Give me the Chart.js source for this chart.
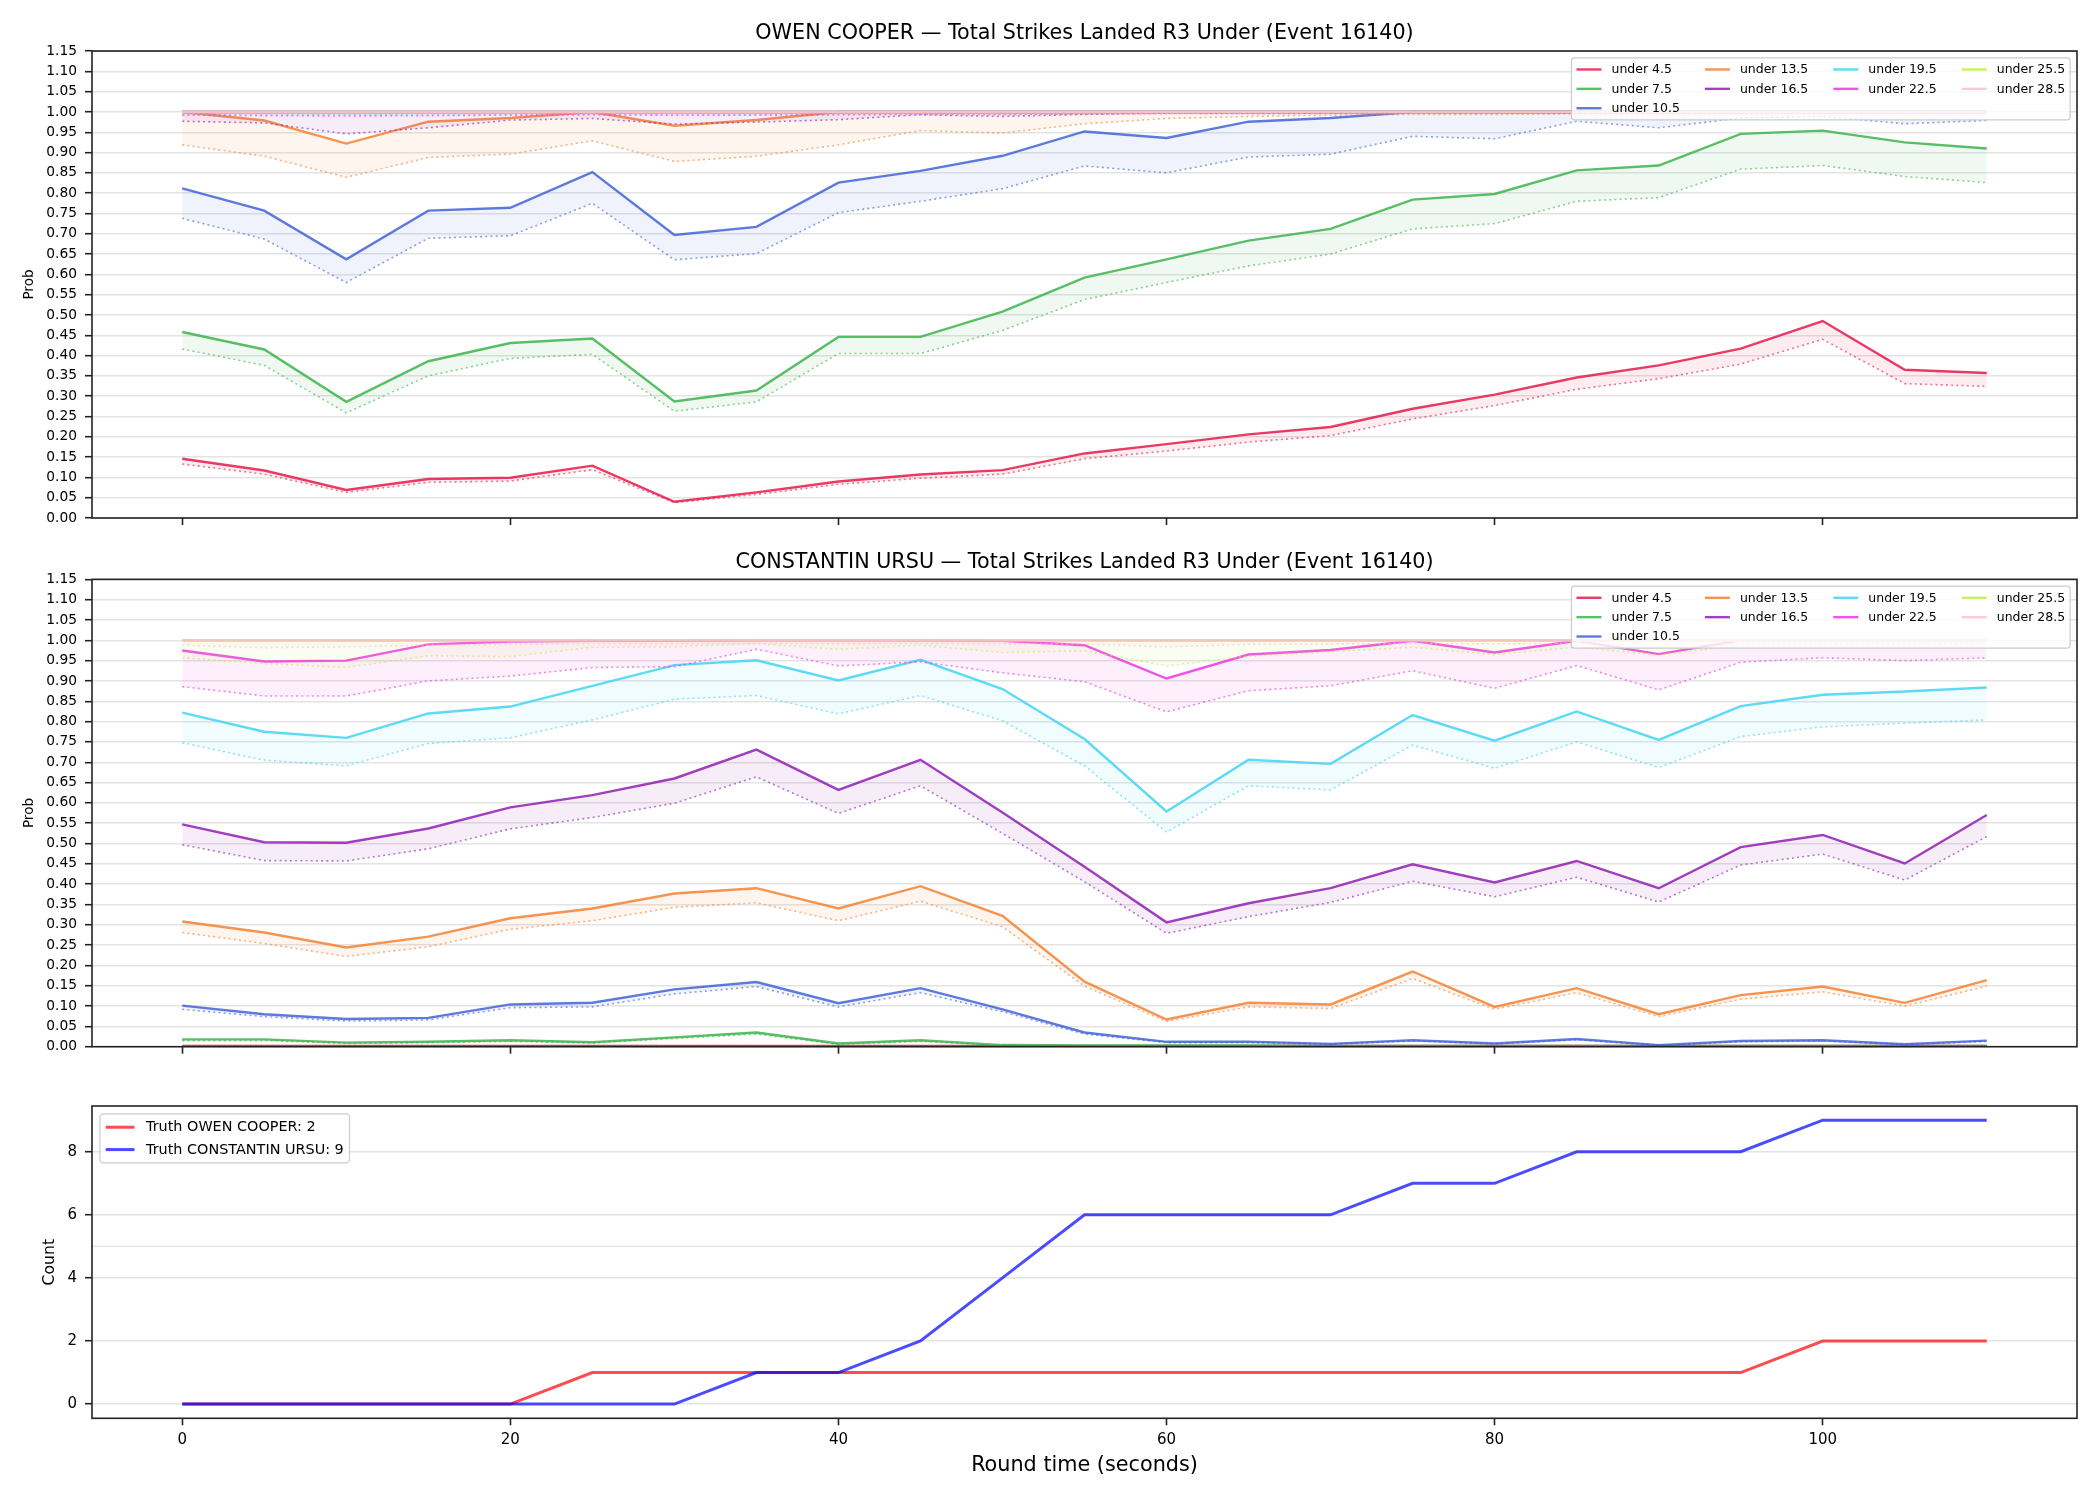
<!DOCTYPE html>
<html lang="en">
<head>
<meta charset="UTF-8">
<title>Total Strikes Landed R3 Under (Event 16140)</title>
<script src="https://cdn.jsdelivr.net/npm/chart.js"></script>
<style>
  body { margin: 0; background: #fff; }
  #wrap { position: relative; width: 2100px; height: 1500px; }
  canvas { position: absolute; left: 0; }
</style>
</head>
<body>
<div id="wrap">
  <canvas id="chartOwen" width="2100" height="548" style="top:0px"></canvas>
  <canvas id="chartUrsu" width="2100" height="546" style="top:530px"></canvas>
  <canvas id="chartTruth" width="2100" height="424" style="top:1076px"></canvas>
</div>
<script>
// ---- data ----
const times = [0, 5, 10, 15, 20, 25, 30, 35, 40, 45, 50, 55, 60, 65, 70, 75, 80, 85, 90, 95, 100, 105, 110];
const timeTicks = [0, 20, 40, 60, 80, 100];
const probTicks = [0, 0.05, 0.10, 0.15, 0.20, 0.25, 0.30, 0.35, 0.40, 0.45, 0.50, 0.55, 0.60, 0.65, 0.70, 0.75, 0.80, 0.85, 0.90, 0.95, 1.00, 1.05, 1.10, 1.15];
const countTicks = [0, 2, 4, 6, 8];
const countExtraGrid = [5];

const lineLabels = ['under 4.5', 'under 7.5', 'under 10.5', 'under 13.5', 'under 16.5', 'under 19.5', 'under 22.5', 'under 25.5', 'under 28.5'];
const lineColors = ['#e6194b', '#3cb44b', '#4363d8', '#f58231', '#911eb4', '#42d4f4', '#f032e6', '#bfef45', '#fabed4'];

// OWEN COOPER: solid line + dotted lower line per threshold
const owen45 = [0.146, 0.117, 0.069, 0.096, 0.099, 0.129, 0.040, 0.063, 0.090, 0.107, 0.118, 0.159, 0.182, 0.206, 0.224, 0.269, 0.304, 0.346, 0.376, 0.417, 0.485, 0.365, 0.357];
const owen45Low = [0.133, 0.108, 0.063, 0.088, 0.091, 0.119, 0.038, 0.058, 0.083, 0.098, 0.108, 0.146, 0.165, 0.187, 0.203, 0.244, 0.277, 0.317, 0.343, 0.379, 0.440, 0.331, 0.324];
const owen75 = [0.458, 0.415, 0.286, 0.386, 0.431, 0.442, 0.287, 0.314, 0.446, 0.446, 0.508, 0.592, 0.637, 0.683, 0.712, 0.784, 0.798, 0.856, 0.868, 0.946, 0.954, 0.925, 0.910];
const owen75Low = [0.416, 0.376, 0.259, 0.350, 0.393, 0.403, 0.263, 0.286, 0.405, 0.405, 0.462, 0.538, 0.580, 0.621, 0.650, 0.712, 0.725, 0.780, 0.789, 0.859, 0.868, 0.841, 0.826];
const owen105 = [0.812, 0.757, 0.637, 0.757, 0.764, 0.852, 0.697, 0.717, 0.826, 0.855, 0.892, 0.952, 0.936, 0.976, 0.985, 1.000, 1.000, 1.000, 1.000, 1.000, 1.000, 1.000, 1.000];
const owen105Low = [0.738, 0.687, 0.580, 0.689, 0.695, 0.775, 0.636, 0.651, 0.752, 0.780, 0.811, 0.867, 0.850, 0.889, 0.896, 0.940, 0.934, 0.977, 0.961, 0.985, 0.989, 0.971, 0.979];
const owen135 = [1.000, 0.979, 0.922, 0.976, 0.985, 1.000, 0.966, 0.980, 1.000, 1.000, 1.000, 1.000, 1.000, 1.000, 1.000, 1.000, 1.000, 1.000, 1.000, 1.000, 1.000, 1.000, 1.000];
const owen135Low = [0.919, 0.891, 0.839, 0.888, 0.896, 0.929, 0.878, 0.891, 0.919, 0.954, 0.948, 0.971, 0.984, 0.989, 0.992, 0.994, 0.994, 0.995, 0.995, 0.995, 0.996, 0.996, 0.996];
const owen165 = [1.000, 1.000, 1.000, 1.000, 1.000, 1.000, 1.000, 1.000, 1.000, 1.000, 1.000, 1.000, 1.000, 1.000, 1.000, 1.000, 1.000, 1.000, 1.000, 1.000, 1.000, 1.000, 1.000];
const owen165Low = [0.977, 0.973, 0.946, 0.961, 0.980, 0.984, 0.970, 0.975, 0.981, 0.993, 0.989, 0.994, 0.997, 0.996, 0.997, 0.998, 0.998, 0.998, 0.998, 0.998, 0.998, 0.998, 0.998];
const owen195 = [1.000, 1.000, 1.000, 1.000, 1.000, 1.000, 1.000, 1.000, 1.000, 1.000, 1.000, 1.000, 1.000, 1.000, 1.000, 1.000, 1.000, 1.000, 1.000, 1.000, 1.000, 1.000, 1.000];
const owen195Low = [0.995, 0.995, 0.994, 0.995, 0.995, 0.996, 0.995, 0.995, 0.996, 0.997, 0.997, 0.997, 0.998, 0.998, 0.998, 0.999, 0.999, 0.999, 0.999, 0.999, 0.999, 0.999, 0.999];
const owen225 = [1.000, 1.000, 1.000, 1.000, 1.000, 1.000, 1.000, 1.000, 1.000, 1.000, 1.000, 1.000, 1.000, 1.000, 1.000, 1.000, 1.000, 1.000, 1.000, 1.000, 1.000, 1.000, 1.000];
const owen225Low = [0.992, 0.991, 0.990, 0.991, 0.992, 0.993, 0.992, 0.992, 0.993, 0.994, 0.994, 0.995, 0.996, 0.996, 0.996, 0.997, 0.997, 0.997, 0.997, 0.997, 0.997, 0.997, 0.997];
const owen255 = [1.000, 1.000, 1.000, 1.000, 1.000, 1.000, 1.000, 1.000, 1.000, 1.000, 1.000, 1.000, 1.000, 1.000, 1.000, 1.000, 1.000, 1.000, 1.000, 1.000, 1.000, 1.000, 1.000];
const owen255Low = [0.999, 0.999, 0.999, 0.999, 0.999, 0.999, 0.999, 0.999, 0.999, 0.999, 0.999, 0.999, 0.999, 0.999, 0.999, 0.999, 0.999, 0.999, 0.999, 0.999, 0.999, 0.999, 0.999];
const owen285 = [1.000, 1.000, 1.000, 1.000, 1.000, 1.000, 1.000, 1.000, 1.000, 1.000, 1.000, 1.000, 1.000, 1.000, 1.000, 1.000, 1.000, 1.000, 1.000, 1.000, 1.000, 1.000, 1.000];
const owen285Low = [0.999, 0.999, 0.999, 0.999, 0.999, 0.999, 0.999, 0.999, 0.999, 0.999, 0.999, 0.999, 0.999, 0.999, 0.999, 0.999, 0.999, 0.999, 0.999, 0.999, 0.999, 0.999, 0.999];

// CONSTANTIN URSU
const ursu45 = [0.002, 0.002, 0.002, 0.002, 0.002, 0.002, 0.002, 0.002, 0.002, 0.002, 0.002, 0.002, 0.002, 0.002, 0.002, 0.002, 0.002, 0.002, 0.002, 0.002, 0.002, 0.002, 0.002];
const ursu45Low = [0.001, 0.001, 0.001, 0.001, 0.001, 0.001, 0.001, 0.001, 0.001, 0.001, 0.001, 0.001, 0.001, 0.001, 0.001, 0.001, 0.001, 0.001, 0.001, 0.001, 0.001, 0.001, 0.001];
const ursu75 = [0.018, 0.018, 0.010, 0.012, 0.016, 0.011, 0.023, 0.035, 0.008, 0.016, 0.004, 0.003, 0.003, 0.003, 0.002, 0.002, 0.002, 0.002, 0.002, 0.002, 0.002, 0.002, 0.002];
const ursu75Low = [0.015, 0.015, 0.008, 0.010, 0.013, 0.009, 0.020, 0.031, 0.006, 0.013, 0.003, 0.002, 0.002, 0.002, 0.001, 0.001, 0.001, 0.001, 0.001, 0.001, 0.001, 0.001, 0.001];
const ursu105 = [0.101, 0.080, 0.068, 0.071, 0.104, 0.108, 0.141, 0.159, 0.107, 0.144, 0.092, 0.035, 0.012, 0.012, 0.007, 0.016, 0.008, 0.019, 0.004, 0.014, 0.016, 0.006, 0.015];
const ursu105Low = [0.092, 0.074, 0.063, 0.066, 0.096, 0.098, 0.130, 0.148, 0.098, 0.133, 0.086, 0.031, 0.010, 0.010, 0.006, 0.014, 0.007, 0.017, 0.003, 0.012, 0.014, 0.005, 0.013];
const ursu135 = [0.308, 0.281, 0.244, 0.271, 0.316, 0.340, 0.377, 0.390, 0.340, 0.395, 0.322, 0.160, 0.067, 0.108, 0.104, 0.185, 0.098, 0.144, 0.080, 0.127, 0.148, 0.108, 0.164];
const ursu135Low = [0.281, 0.254, 0.222, 0.246, 0.289, 0.310, 0.343, 0.354, 0.310, 0.358, 0.295, 0.149, 0.062, 0.098, 0.094, 0.168, 0.092, 0.133, 0.074, 0.117, 0.135, 0.100, 0.149];
const ursu165 = [0.547, 0.503, 0.502, 0.537, 0.589, 0.619, 0.660, 0.731, 0.632, 0.706, 0.576, 0.443, 0.306, 0.353, 0.390, 0.449, 0.404, 0.457, 0.390, 0.491, 0.521, 0.451, 0.570];
const ursu165Low = [0.497, 0.458, 0.457, 0.487, 0.536, 0.564, 0.599, 0.664, 0.574, 0.642, 0.525, 0.406, 0.279, 0.320, 0.355, 0.407, 0.369, 0.417, 0.356, 0.447, 0.474, 0.410, 0.517];
const ursu195 = [0.822, 0.775, 0.760, 0.820, 0.837, 0.888, 0.939, 0.951, 0.901, 0.952, 0.880, 0.757, 0.579, 0.706, 0.696, 0.816, 0.753, 0.825, 0.755, 0.838, 0.866, 0.874, 0.884];
const ursu195Low = [0.748, 0.705, 0.691, 0.746, 0.760, 0.804, 0.855, 0.864, 0.819, 0.864, 0.802, 0.691, 0.528, 0.642, 0.632, 0.742, 0.685, 0.750, 0.687, 0.763, 0.787, 0.796, 0.804];
const ursu225 = [0.975, 0.948, 0.950, 0.990, 0.997, 0.999, 0.999, 1.000, 1.000, 1.000, 0.999, 0.988, 0.906, 0.965, 0.976, 0.999, 0.970, 0.999, 0.966, 1.000, 1.000, 1.000, 1.000];
const ursu225Low = [0.886, 0.863, 0.863, 0.900, 0.912, 0.933, 0.935, 0.978, 0.937, 0.947, 0.920, 0.898, 0.824, 0.876, 0.888, 0.925, 0.882, 0.938, 0.878, 0.946, 0.957, 0.950, 0.957];
const ursu255 = [1.000, 1.000, 1.000, 1.000, 1.000, 1.000, 1.000, 1.000, 1.000, 1.000, 1.000, 1.000, 1.000, 1.000, 1.000, 1.000, 1.000, 1.000, 1.000, 1.000, 1.000, 1.000, 1.000];
const ursu255Low = [0.957, 0.943, 0.933, 0.962, 0.960, 0.983, 0.984, 0.992, 0.978, 0.988, 0.970, 0.974, 0.937, 0.961, 0.972, 0.983, 0.965, 0.983, 0.964, 0.988, 0.990, 0.990, 0.991];
const ursu285 = [1.000, 1.000, 1.000, 1.000, 1.000, 1.000, 1.000, 1.000, 1.000, 1.000, 1.000, 1.000, 1.000, 1.000, 1.000, 1.000, 1.000, 1.000, 1.000, 1.000, 1.000, 1.000, 1.000];
const ursu285Low = [0.988, 0.982, 0.984, 0.988, 0.990, 0.991, 0.991, 0.992, 0.991, 0.992, 0.991, 0.991, 0.984, 0.990, 0.991, 0.992, 0.991, 0.992, 0.990, 0.992, 0.993, 0.993, 0.993];

// running truth counts
const truthOwen = [0, 0, 0, 0, 0, 1, 1, 1, 1, 1, 1, 1, 1, 1, 1, 1, 1, 1, 1, 1, 2, 2, 2];
const truthUrsu = [0, 0, 0, 0, 0, 0, 0, 1, 1, 2, 4, 6, 6, 6, 6, 7, 7, 8, 8, 8, 9, 9, 9];

const owenMain = [owen45, owen75, owen105, owen135, owen165, owen195, owen225, owen255, owen285];
const owenLow = [owen45Low, owen75Low, owen105Low, owen135Low, owen165Low, owen195Low, owen225Low, owen255Low, owen285Low];
const ursuMain = [ursu45, ursu75, ursu105, ursu135, ursu165, ursu195, ursu225, ursu255, ursu285];
const ursuLow = [ursu45Low, ursu75Low, ursu105Low, ursu135Low, ursu165Low, ursu195Low, ursu225Low, ursu255Low, ursu285Low];

// ---- helpers ----
Chart.defaults.font.family = '"DejaVu Sans", sans-serif';
Chart.defaults.color = '#000';
const gridColor = 'rgba(176,176,176,0.35)';

function rgba(hex, a) {
  const n = parseInt(hex.slice(1), 16);
  return `rgba(${n >> 16}, ${(n >> 8) & 255}, ${n & 255}, ${a})`;
}
const pts = vals => times.map((t, i) => ({ x: t, y: vals[i] }));

// box round the plot area, like matplotlib spines
const axesFrame = {
  id: 'axesFrame',
  beforeDatasetsDraw(chart, args, o) {
    // extra unlabelled grid lines
    if (!o.extraGrid) return;
    const { ctx, chartArea: a, scales } = chart;
    ctx.save();
    ctx.strokeStyle = gridColor;
    ctx.lineWidth = 1.4;
    o.extraGrid.forEach(v => {
      const y = scales.y.getPixelForValue(v);
      ctx.beginPath();
      ctx.moveTo(a.left, y);
      ctx.lineTo(a.right, y);
      ctx.stroke();
    });
    ctx.restore();
  },
  afterDatasetsDraw(chart) {
    const { ctx, chartArea: a } = chart;
    ctx.save();
    ctx.strokeStyle = '#222';
    ctx.lineWidth = 1.6;
    ctx.strokeRect(a.left, a.top, a.right - a.left, a.bottom - a.top);
    ctx.restore();
  }
};

// legend drawn inside the plot area (matplotlib style, column-wise fill)
const insideLegend = {
  id: 'insideLegend',
  afterDraw(chart, args, o) {
    if (!o.items) return;
    const { ctx, chartArea: a } = chart;
    const fs = o.fontSize;
    ctx.save();
    ctx.font = fs + 'px "DejaVu Sans"';
    const n = o.items.length, ncol = o.ncol || 1;
    const base = Math.floor(n / ncol), extra = n % ncol;
    const cols = [];
    let idx = 0;
    for (let c = 0; c < ncol; c++) {
      const cnt = base + (c < extra ? 1 : 0);
      cols.push(o.items.slice(idx, idx + cnt));
      idx += cnt;
    }
    const pad = 0.4 * fs, hl = 2 * fs, htp = 0.8 * fs, cs = 2 * fs, ls = 0.5 * fs, rowH = fs * 1.05;
    const colW = cols.map(col => hl + htp + Math.max(...col.map(it => ctx.measureText(it.label).width)));
    const nrow = Math.max(...cols.map(c => c.length));
    const w = 2 * pad + colW.reduce((s, v) => s + v, 0) + cs * (ncol - 1);
    const h = 2 * pad + nrow * rowH + (nrow - 1) * ls;
    const inset = 0.55 * fs;
    const x0 = o.loc === 'upper left' ? a.left + inset : a.right - inset - w;
    const y0 = a.top + inset;
    ctx.beginPath();
    ctx.roundRect(x0, y0, w, h, 0.25 * fs);
    ctx.fillStyle = 'rgba(255,255,255,0.8)';
    ctx.fill();
    ctx.strokeStyle = '#cccccc';
    ctx.lineWidth = 1.2;
    ctx.stroke();
    ctx.textBaseline = 'middle';
    ctx.textAlign = 'left';
    let cx = x0 + pad;
    cols.forEach((col, c) => {
      col.forEach((it, r) => {
        const cy = y0 + pad + r * (rowH + ls) + rowH / 2;
        ctx.strokeStyle = it.color;
        ctx.lineWidth = it.width;
        ctx.beginPath();
        ctx.moveTo(cx, cy);
        ctx.lineTo(cx + hl, cy);
        ctx.stroke();
        ctx.fillStyle = '#000';
        ctx.fillText(it.label, cx + hl + htp, cy + 0.5);
      });
      cx += colW[c] + cs;
    });
    ctx.restore();
  }
};

function probDatasets(main, low) {
  const ds = [];
  main.forEach((vals, k) => {
    const c = lineColors[k];
    ds.push({
      label: lineLabels[k], data: pts(vals),
      borderColor: rgba(c, 0.85), borderWidth: 2.4,
      pointRadius: 0, fill: false, clip: 0, order: -2 * k
    });
    ds.push({
      label: lineLabels[k] + ' low', data: pts(low[k]),
      borderColor: rgba(c, 0.6), borderWidth: 1.6, borderDash: [2, 3.2],
      backgroundColor: rgba(c, 0.08), fill: '-1',
      pointRadius: 0, clip: 0, order: -2 * k - 1
    });
  });
  return ds;
}

function xScale(showLabels, height) {
  return {
    type: 'linear', min: -5.5, max: 115.5,
    afterBuildTicks: s => { s.ticks = timeTicks.map(v => ({ value: v })); },
    afterFit: s => { s.height = height; },
    border: { display: false },
    grid: { drawOnChartArea: false, drawTicks: true, tickLength: 7, tickColor: '#222', tickWidth: 1.6 },
    ticks: { display: showLabels, padding: 6, font: { size: 15 }, maxRotation: 0, autoSkip: false, callback: v => String(v) },
    title: { display: showLabels, text: 'Round time (seconds)', font: { size: 20.75 }, padding: { bottom: 21.6 } }
  };
}

function yScale(min, max, ticks, fmt, title, titleSize, titlePad, tickSize) {
  return {
    min: min, max: max,
    afterBuildTicks: s => { s.ticks = ticks.map(v => ({ value: v })); },
    afterFit: s => { s.width = 92; },
    border: { display: false },
    grid: { color: gridColor, lineWidth: 1.4, tickColor: '#222', tickLength: 7, tickWidth: 1.6 },
    ticks: { padding: 8, font: { size: tickSize }, callback: fmt },
    title: { display: true, text: title, font: { size: titleSize }, padding: { top: titlePad } }
  };
}

function probChart(id, name, main, low, box) {
  return new Chart(document.getElementById(id), {
    type: 'line',
    data: { datasets: probDatasets(main, low) },
    plugins: [axesFrame, insideLegend],
    options: {
      responsive: false, animation: false, devicePixelRatio: 1,
      layout: { padding: { left: 0, right: 23, top: 0, bottom: 0 } },
      scales: {
        x: xScale(false, box.axis),
        y: yScale(0, 1.15, probTicks, v => v.toFixed(2), 'Prob', 13.6, 21.4, 13.8)
      },
      plugins: {
        legend: { display: false },
        tooltip: { enabled: false },
        title: {
          display: true, fullSize: false,
          text: name + ' \u2014 Total Strikes Landed R3 Under (Event 16140)',
          font: { size: 20.7, weight: 'normal' },
          padding: { top: box.top, bottom: box.bottom }
        },
        insideLegend: {
          loc: 'upper right', ncol: 4, fontSize: 12.5,
          items: lineLabels.map((l, k) => ({ label: l, color: rgba(lineColors[k], 0.85), width: 2.4 }))
        }
      }
    }
  });
}

probChart('chartOwen', 'OWEN COOPER', owenMain, owenLow, { top: 21.1, bottom: 5.1, axis: 30 });
probChart('chartUrsu', 'CONSTANTIN URSU', ursuMain, ursuLow, { top: 19.9, bottom: 4.6, axis: 29.3 });

const owenTruthColor = 'rgba(255, 0, 0, 0.7)';
const ursuTruthColor = 'rgba(0, 0, 255, 0.7)';
new Chart(document.getElementById('chartTruth'), {
  type: 'line',
  data: {
    datasets: [
      { label: 'Truth OWEN COOPER: ' + truthOwen[truthOwen.length - 1], data: pts(truthOwen), borderColor: owenTruthColor, borderWidth: 3, pointRadius: 0, fill: false, order: 0 },
      { label: 'Truth CONSTANTIN URSU: ' + truthUrsu[truthUrsu.length - 1], data: pts(truthUrsu), borderColor: ursuTruthColor, borderWidth: 3, pointRadius: 0, fill: false, order: -1 }
    ]
  },
  plugins: [axesFrame, insideLegend],
  options: {
    responsive: false, animation: false, devicePixelRatio: 1,
    layout: { padding: { left: 0, right: 23, top: 30, bottom: 0 } },
    scales: {
      x: xScale(true, 81.7),
      y: yScale(-0.45, 9.45, countTicks, v => String(v), 'Count', 15.7, 40.6, 15)
    },
    plugins: {
      legend: { display: false },
      tooltip: { enabled: false },
      axesFrame: { extraGrid: countExtraGrid },
      insideLegend: {
        loc: 'upper left', ncol: 1, fontSize: 14.4,
        items: [
          { label: 'Truth OWEN COOPER: ' + truthOwen[truthOwen.length - 1], color: owenTruthColor, width: 3 },
          { label: 'Truth CONSTANTIN URSU: ' + truthUrsu[truthUrsu.length - 1], color: ursuTruthColor, width: 3 }
        ]
      }
    }
  }
});
</script>
</body>
</html>
